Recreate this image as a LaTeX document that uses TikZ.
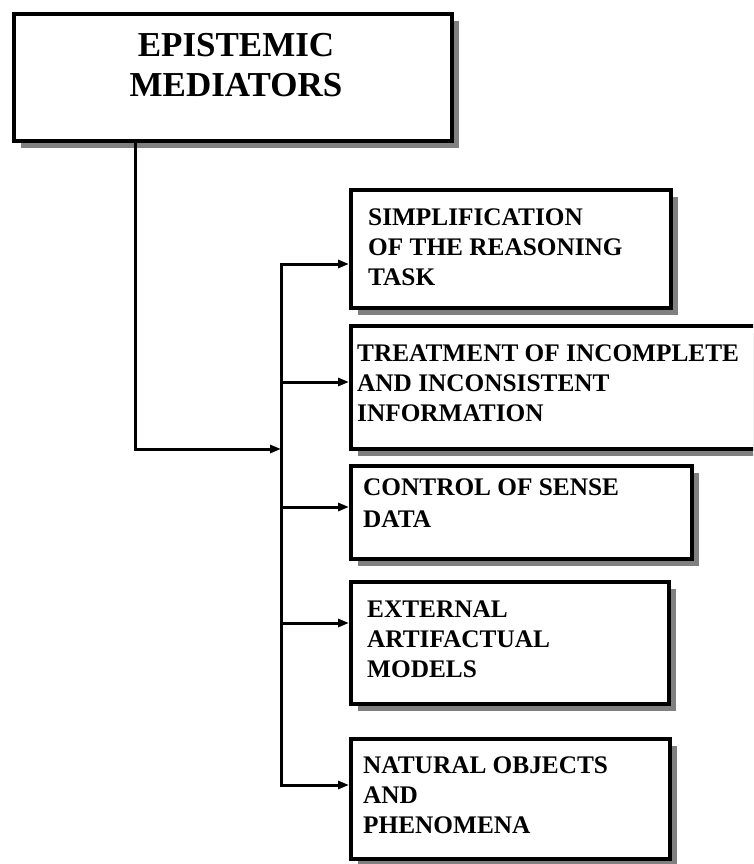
\documentclass[tikz,border=0pt]{standalone}
\usepackage{fontspec}
\setmainfont{Liberation Serif}
\usetikzlibrary{arrows.meta,shadows}
\definecolor{shadowgrey}{HTML}{808080}
\tikzset{
  box/.style={draw=black, line width=4pt, fill=white, inner sep=0pt,
    anchor=north west, rectangle,
    general shadow={fill=shadowgrey, shadow xshift=7pt, shadow yshift=-7pt}},
  % anchored at the baseline of the last line
  boxtext/.style={anchor=base west, align=left, inner sep=0pt,
    font=\bfseries\fontsize{25.3}{30}\selectfont},
  conn/.style={line width=3pt, line cap=rect},
  arr/.style={line width=3pt, -{Triangle[length=11pt,width=8pt]}},
}
\begin{document}
\begin{tikzpicture}[x=1pt, y=-1pt]
  \path[use as bounding box, clip] (0,0) rectangle (753,864);

  % main category
  \node[box, minimum width=438pt, minimum height=126pt] (top) at (11.5,12.5) {};
  \node[anchor=base, align=center, inner sep=0pt,
        font=\bfseries\fontsize{35}{40}\selectfont] (toptext) at (236,97)
        {EPISTEMIC\\MEDIATORS};

  % sub-categories
  \node[box, minimum width=320pt, minimum height=118pt] (b1) at (349,188) {};
  \node[boxtext] (t1) at (368,285) {SIMPLIFICATION\\OF THE REASONING\\TASK};

  \node[box, minimum width=431pt, minimum height=123pt] (b2) at (349,324) {};
  \node[boxtext] (t2) at (357,421) {TREATMENT OF INCOMPLETE\\AND INCONSISTENT\\INFORMATION};

  \node[box, minimum width=341pt, minimum height=93pt] (b3) at (349,464) {};
  \node[boxtext, font=\bfseries\fontsize{25.3}{32}\selectfont] (t3) at (363,527) {CONTROL OF SENSE\\DATA};

  \node[box, minimum width=318pt, minimum height=122pt] (b4) at (349,580) {};
  \node[boxtext] (t4) at (367,677) {EXTERNAL\\ARTIFACTUAL\\MODELS};

  \node[box, minimum width=319pt, minimum height=120pt] (b5) at (349,737) {};
  \node[boxtext] (t5) at (363,833) {NATURAL OBJECTS\\AND\\PHENOMENA};

  % distribution bus
  \coordinate (j) at (281,449);
  \coordinate (s1) at (281,264);
  \coordinate (s2) at (281,382);
  \coordinate (s3) at (281,507);
  \coordinate (s4) at (281,623);
  \coordinate (s5) at (281,785);

  \draw[arr] ([xshift=123.5pt]top.south west) |- (j);
  \draw[conn] (s1) -- (s5);
  \draw[arr] (s1) -- (s1 -| b1.west);
  \draw[arr] (s2) -- (s2 -| b2.west);
  \draw[arr] (s3) -- (s3 -| b3.west);
  \draw[arr] (s4) -- (s4 -| b4.west);
  \draw[arr] (s5) -- (s5 -| b5.west);
\end{tikzpicture}
\end{document}
